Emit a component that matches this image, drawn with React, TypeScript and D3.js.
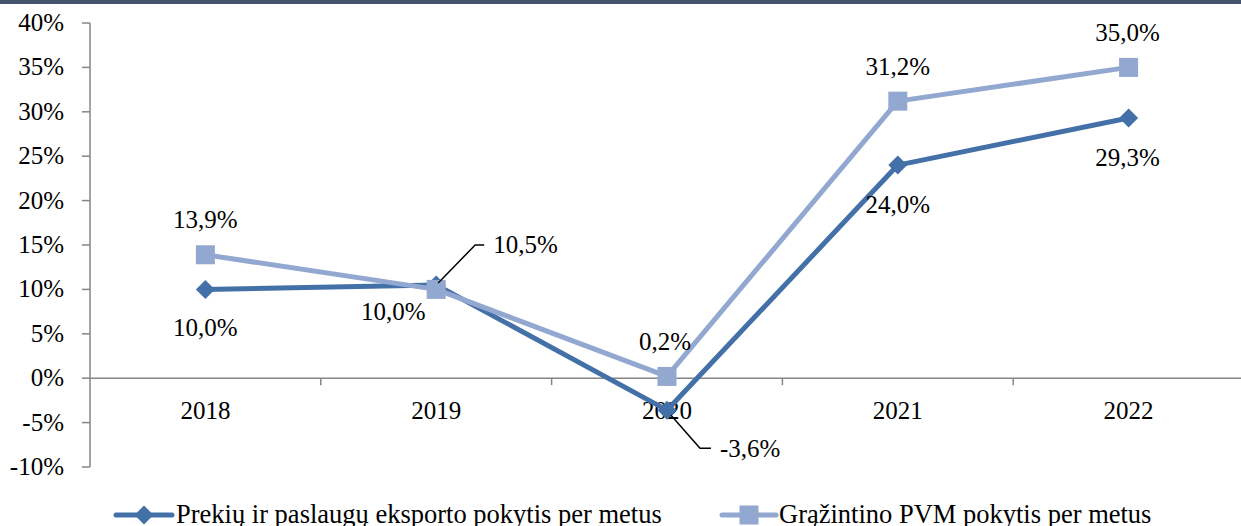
import React from "react";
import * as d3 from "d3";

const years = ["2018", "2019", "2020", "2021", "2022"];
const exportChange = [10.0, 10.5, -3.6, 24.0, 29.3];
const vatChange = [13.9, 10.0, 0.2, 31.2, 35.0];
const yTicks = [-10, -5, 0, 5, 10, 15, 20, 25, 30, 35, 40];
const seriesNames = ["Prekių ir paslaugų eksporto pokytis per metus", "Grąžintino PVM pokytis per metus"];

const W = 1241;
const H = 526;
const FONT = "'Liberation Serif', 'Times New Roman', serif";
const DARK = "#4470A8";
const LIGHT = "#93A8D0";
const AXIS = "#868686";
const FS = 25;
const LFS = 26.5;

const fmt = (v: number) => v.toFixed(1).replace(".", ",") + "%";

export default function App() {
  const x = d3.scalePoint<string>().domain(years).range([90, 1244]).padding(0.5);
  const y = d3.scaleLinear().domain([-10, 40]).range([467, 23]);
  const step = x.step();
  const line = d3
    .line<number>()
    .x((_, i) => x(years[i]) as number)
    .y((d) => y(d));

  const diamond = (cx: number, cy: number, r: number) =>
    `M${cx},${cy - r}L${cx + r},${cy}L${cx},${cy + r}L${cx - r},${cy}Z`;

  const px = (i: number) => x(years[i]) as number;

  const labels: { v: number; i: number; s: number; dx: number; dy: number; anchor: string }[] = [
    { v: vatChange[0], i: 0, s: 1, dx: 0, dy: -35, anchor: "middle" },
    { v: exportChange[0], i: 0, s: 0, dx: 0, dy: 39, anchor: "middle" },
    { v: exportChange[1], i: 1, s: 0, dx: 57, dy: -40, anchor: "start" },
    { v: vatChange[1], i: 1, s: 1, dx: -43, dy: 23, anchor: "middle" },
    { v: vatChange[2], i: 2, s: 1, dx: -2, dy: -34, anchor: "middle" },
    { v: exportChange[2], i: 2, s: 0, dx: 53, dy: 39, anchor: "start" },
    { v: vatChange[3], i: 3, s: 1, dx: 0, dy: -34, anchor: "middle" },
    { v: exportChange[3], i: 3, s: 0, dx: 0, dy: 40, anchor: "middle" },
    { v: vatChange[4], i: 4, s: 1, dx: -1, dy: -34, anchor: "middle" },
    { v: exportChange[4], i: 4, s: 0, dx: -1, dy: 40, anchor: "middle" },
  ];

  const e1 = { x: px(1), y: y(exportChange[1]) };
  const e2 = { x: px(2), y: y(exportChange[2]) };

  return (
    <svg
      width={W}
      height={H}
      style={{ position: "absolute", left: 0, top: 0, background: "#fff" }}
      fontFamily={FONT}
    >
      <rect x={0} y={0} width={W} height={4} fill="#44546A" />
      <line x1={90} x2={90} y1={y(40)} y2={y(-10)} stroke={AXIS} strokeWidth={1.5} />
      {yTicks.map((t) => (
        <g key={t}>
          <line x1={82} x2={90} y1={y(t)} y2={y(t)} stroke={AXIS} strokeWidth={1.5} />
          <text x={64} y={y(t) + 8} textAnchor="end" fontSize={FS} fill="#000">
            {t + "%"}
          </text>
        </g>
      ))}
      <line x1={90} x2={W} y1={y(0)} y2={y(0)} stroke={AXIS} strokeWidth={1.5} />
      {years.map((yr, i) => (
        <g key={yr}>
          <line
            x1={px(i) + step / 2}
            x2={px(i) + step / 2}
            y1={y(0)}
            y2={y(0) + 7}
            stroke={AXIS}
            strokeWidth={1.5}
          />
          <text x={px(i)} y={y(0) + 41} textAnchor="middle" fontSize={FS} fill="#000">
            {yr}
          </text>
        </g>
      ))}
      <path d={line(exportChange) || ""} fill="none" stroke={DARK} strokeWidth={5} strokeLinejoin="round" />
      {exportChange.map((v, i) => (
        <path key={i} d={diamond(px(i), y(v), 9.5)} fill={DARK} />
      ))}
      <path d={line(vatChange) || ""} fill="none" stroke={LIGHT} strokeWidth={5} strokeLinejoin="round" />
      {vatChange.map((v, i) => (
        <rect key={i} x={px(i) - 9.5} y={y(v) - 9.5} width={19} height={19} fill={LIGHT} />
      ))}
      <polyline
        points={`${e1.x + 2},${e1.y - 2} ${e1.x + 39},${e1.y - 40} ${e1.x + 48},${e1.y - 40}`}
        fill="none"
        stroke="#000"
        strokeWidth={1.5}
      />
      <polyline
        points={`${e2.x + 4},${e2.y + 5} ${e2.x + 33},${e2.y + 38} ${e2.x + 44},${e2.y + 38}`}
        fill="none"
        stroke="#000"
        strokeWidth={1.5}
      />
      {labels.map((l, k) => {
        const vals = l.s === 0 ? exportChange : vatChange;
        return (
          <text
            key={k}
            x={px(l.i) + l.dx}
            y={y(vals[l.i]) + l.dy + 8}
            textAnchor={l.anchor as any}
            fontSize={FS}
            fill="#000"
          >
            {fmt(l.v)}
          </text>
        );
      })}
      <g>
        <line x1={116} x2={172} y1={515} y2={515} stroke={DARK} strokeWidth={5} strokeLinecap="round" />
        <path d={diamond(144, 515, 9.5)} fill={DARK} />
        <text x={176} y={523} fontSize={LFS} fill="#000">
          {seriesNames[0]}
        </text>
        <line x1={722} x2={776} y1={515} y2={515} stroke={LIGHT} strokeWidth={5} strokeLinecap="round" />
        <rect x={739.5} y={505.5} width={19} height={19} fill={LIGHT} />
        <text x={779} y={523} fontSize={LFS} fill="#000">
          {seriesNames[1]}
        </text>
      </g>
    </svg>
  );
}
